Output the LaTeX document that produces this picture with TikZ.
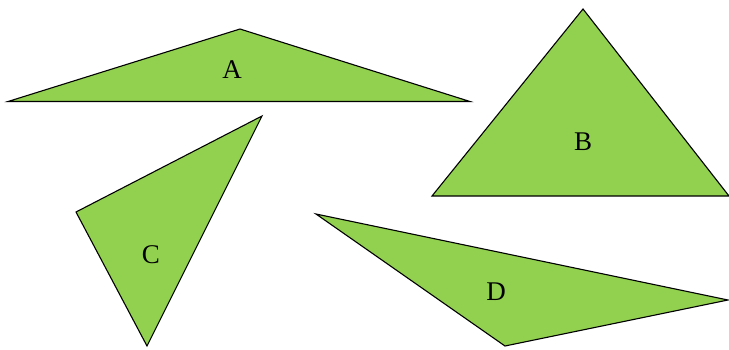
\documentclass[tikz,border=0pt]{standalone}
\usepackage{fontspec}
\setmainfont{Liberation Serif}
\definecolor{leaf}{HTML}{92D050}
\tikzset{tri/.style={fill=leaf,draw=black,line width=1.1pt,line join=miter},
  lbl/.style={font=\fontsize{27}{27}\selectfont,inner sep=0pt}}
\begin{document}
\begin{tikzpicture}[x=1pt,y=-1pt]
                \useasboundingbox (0,0) rectangle (729,349);
                \draw[tri] (8,101.5) -- (240,29) -- (470,101.5) -- cycle;
                \draw[tri] (432,196) -- (583,9) -- (729,196) -- cycle;
                \draw[tri] (76,212) -- (262,116) -- (147,346) -- cycle;
                \draw[tri] (316,214) -- (728,300) -- (505,346) -- cycle;
                \node[lbl] (a) at (232,70) {A};
                \node[lbl] (b) at (583,142) {B};
                \node[lbl] (c) at (151,255) {C};
                \node[lbl] (d) at (496,292) {D};
\end{tikzpicture}
\end{document}
